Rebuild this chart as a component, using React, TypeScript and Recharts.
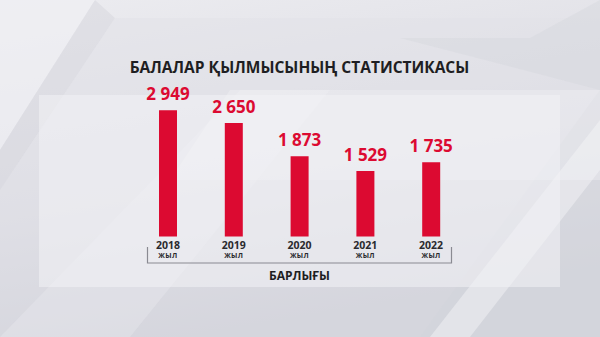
import React from "react";
import { Bar, BarChart, LabelList, XAxis, YAxis } from "recharts";

const YEARS = ["2018", "2019", "2020", "2021", "2022"];
const CASES = [2949, 2650, 1873, 1529, 1735];
const UNIT = "ЖЫЛ";
const TITLE = "БАЛАЛАР ҚЫЛМЫСЫНЫҢ СТАТИСТИКАСЫ";
const TOTAL_LABEL = "БАРЛЫҒЫ";

const data = YEARS.map((year, i) => ({ year, value: CASES[i] }));

const RED = "#dc0a31";
const FONT = "'Open Sans', sans-serif";

const formatValue = (v: number) =>
  String(v).replace(/\B(?=(\d{3})+(?!\d))/g, " ");

const YearTick = (props: any) => {
  const { x, y, payload } = props;
  return (
    <g>
      <text
        x={x}
        y={y + 12}
        textAnchor="middle"
        fontFamily={FONT}
        fontWeight={700}
        fontSize={10.5}
        fill="#2a2a2e"
      >
        {payload.value}
      </text>
      <text
        x={x}
        y={y + 21.5}
        textAnchor="middle"
        fontFamily={FONT}
        fontWeight={700}
        fontSize={7}
        letterSpacing={0.3}
        fill="#2a2a2e"
      >
        {UNIT}
      </text>
    </g>
  );
};

// plain text so the number is not wrapped to the bar width
const ValueLabel = (props: any) => {
  const { x, y, width, value } = props;
  return (
    <text
      x={x + width / 2}
      y={y - 10}
      textAnchor="middle"
      fontFamily={FONT}
      fontWeight={700}
      fontSize={17}
      fill={RED}
    >
      {formatValue(Number(value))}
    </text>
  );
};

const Background = () => (
  <svg
    width={600}
    height={337}
    style={{ position: "absolute", left: 0, top: 0 }}
  >
    <defs>
      <linearGradient id="bg" x1="0" y1="0" x2="0.3" y2="1">
        <stop offset="0" stopColor="#ececf0" />
        <stop offset="0.6" stopColor="#dcdce3" />
        <stop offset="1" stopColor="#c9cad3" />
      </linearGradient>
    </defs>
    <rect width={600} height={337} fill="url(#bg)" />
    <polygon points="0,0 95,0 0,150" fill="#f0f0f3" opacity={0.7} />
    <polygon points="95,0 115,18 0,190 0,150" fill="#d8d8e0" opacity={0.6} />
    <polygon points="115,18 600,18 600,337 0,337 0,190" fill="#e2e2e8" opacity={0.5} />
    <polygon points="400,38 530,38 600,0 600,337 420,337 600,90" fill="#d2d3db" opacity={0.35} />
    <polygon points="230,90 600,90 600,180 170,180" fill="#f4f4f6" opacity={0.35} />
    <polygon points="0,337 130,337 330,90 240,90" fill="#f5f5f7" opacity={0.25} />
    <polygon points="430,337 470,337 600,170 600,120" fill="#f7f7f9" opacity={0.45} />
    <rect x={39} y={95} width={521} height={192} fill="#f3f3f6" opacity={0.55} />
  </svg>
);

const Overlay = () => (
  <svg
    width={600}
    height={337}
    style={{ position: "absolute", left: 0, top: 0, pointerEvents: "none" }}
  >
    <text
      x={299.5}
      y={72.5}
      textAnchor="middle"
      fontFamily={FONT}
      fontWeight={700}
      fontSize={15.5}
      fill="#1e1e22"
    >
      {TITLE}
    </text>
    <polyline
      points="147.5,247 147.5,263 451.5,263 451.5,247"
      fill="none"
      stroke="#8a8a92"
      strokeWidth={1.2}
    />
    <text
      x={299.5}
      y={280}
      textAnchor="middle"
      fontFamily={FONT}
      fontWeight={700}
      fontSize={12}
      fill="#1e1e22"
    >
      {TOTAL_LABEL}
    </text>
  </svg>
);

export default function App() {
  return (
    <div
      style={{
        position: "fixed",
        left: 0,
        top: 0,
        width: 600,
        height: 337,
        overflow: "hidden",
      }}
    >
      <Background />
      <div style={{ position: "absolute", left: 0, top: 0 }}>
        <BarChart
          width={600}
          height={337}
          data={data}
          margin={{ top: 108, right: 136, bottom: 0, left: 135 }}
          barCategoryGap={0}
        >
          <XAxis
            dataKey="year"
            axisLine={false}
            tickLine={false}
            tickSize={0}
            tickMargin={0}
            height={100.5}
            interval={0}
            tick={<YearTick />}
          />
          <YAxis hide domain={[0, 3000]} width={0} />
          <Bar
            dataKey="value"
            fill={RED}
            barSize={18}
            isAnimationActive={false}
          >
            <LabelList dataKey="value" content={<ValueLabel />} />
          </Bar>
        </BarChart>
      </div>
      <Overlay />
    </div>
  );
}
